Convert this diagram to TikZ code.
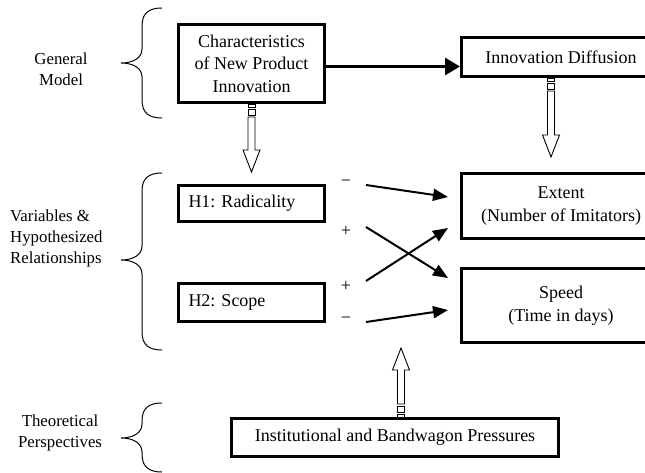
\documentclass[tikz,border=0pt]{standalone}
\usepackage{fontspec}
\setmainfont{Liberation Serif}
\usetikzlibrary{arrows.meta,calc}
\frenchspacing
\newcommand{\HollowArrow}[1]{%
  \draw[hollow] (-3.5,0) rectangle (3.5,3);
  \draw[hollow] (-3.5,5) rectangle (3.5,11);
  \draw[hollow] (-3.5,13) -- (-3.5,#1-22) -- (-8.5,#1-22) -- (0,#1) -- (8.5,#1-22) -- (3.5,#1-22) -- (3.5,13) -- cycle;}
\newcommand{\LeftBrace}[3]{% top, mid, bottom
  \draw[bracestyle] (162,#1) .. controls (149,#1) and (142,#1+5) .. (142,#1+18)
    -- (142,#2-14) .. controls (142,#2-5) and (133,#2) .. (121,#2)
    .. controls (133,#2) and (142,#2+5) .. (142,#2+14)
    -- (142,#3-18) .. controls (142,#3-5) and (149,#3) .. (162,#3);}
\begin{document}
\begin{tikzpicture}[x=1pt,y=-1pt,
  box/.style={draw, line width=2.6pt, inner sep=0pt, align=center,
    font=\fontsize{18}{22.5}\selectfont},
  lbl/.style={inner sep=0pt, font=\fontsize{16.8}{21}\selectfont},
  sgn/.style={inner sep=0pt, font=\fontsize{18}{20}\selectfont},
  hollow/.style={draw, line width=0.9pt, fill=white},
  bracestyle/.style={line width=1pt},
  thickarrow/.style={line width=3pt, -{Triangle[length=15pt,width=17pt]}},
  relarrow/.style={line width=2pt, -{Triangle[length=15pt,width=12pt]}}]
\useasboundingbox (0,0) rectangle (645,473);
\clip (0,0) rectangle (645,473);

% left labels and braces
\node[lbl, align=center] (lgm) at (61,69) {General\\Model};
\node[lbl, align=left, anchor=west] (lvr) at (10,238) {Variables \&\\Hypothesized\\Relationships};
\node[lbl, align=center] (ltp) at (60,433) {Theoretical\\Perspectives};
\LeftBrace{8}{63}{118}
\LeftBrace{173}{260}{350}
\LeftBrace{403}{438}{472}

% boxes
\node[box, minimum width=146.4pt, minimum height=78.4pt] (b1) at (251.5,63.5) {Characteristics\\of New Product\\Innovation};
\node[box, minimum width=199.4pt, minimum height=39.4pt] (b2) at (561,57) {Innovation Diffusion};
\node[box, minimum height=36.4pt, text width=126pt, inner xsep=10pt, align=left] (h1) at (251.5,203.5) {H1: Radicality};
\node[box, minimum height=38.4pt, text width=126pt, inner xsep=10pt, align=left] (h2) at (251.5,302.5) {H2: Scope};
\node[box, minimum width=199.4pt, minimum height=65.4pt] (ext) at (561,206) {Extent\\(Number of Imitators)};
\node[box, minimum width=199.4pt, minimum height=74.4pt] (spd) at (561,305.5) {Speed\\(Time in days)};
\node[box, minimum width=327.4pt, minimum height=38.4pt] (inst) at (395,437.5) {Institutional and Bandwagon Pressures};

% main arrow
\draw[thickarrow] ($(b1.east)+(0,3)$) -- ($(b1.east -| b2.west)+(0,3)$);

% hollow arrows
\begin{scope}[shift={(b1.south)}]\HollowArrow{68}\end{scope}
\begin{scope}[shift={($(b2.south)+(-10,0)$)}]\HollowArrow{79}\end{scope}
\begin{scope}[shift={($(inst.north)+(6,0)$)}, yscale=-1]\HollowArrow{69}\end{scope}

% hypothesized relationships
\coordinate (a1s) at (366,185); \coordinate (a1e) at (448,197);
\coordinate (a2s) at (366,227); \coordinate (a2e) at (448,278);
\coordinate (a3s) at (366,281); \coordinate (a3e) at (448,228);
\coordinate (a4s) at (366,322); \coordinate (a4e) at (448,310);
\draw[relarrow] (a1s) -- (a1e);
\draw[relarrow] (a2s) -- (a2e);
\draw[relarrow] (a3s) -- (a3e);
\draw[relarrow] (a4s) -- (a4e);
\node[sgn] (s1) at (346,183) {−};
\node[sgn] (s2) at (346,231) {+};
\node[sgn] (s3) at (346,286) {+};
\node[sgn] (s4) at (346,320) {−};
\end{tikzpicture}
\end{document}
